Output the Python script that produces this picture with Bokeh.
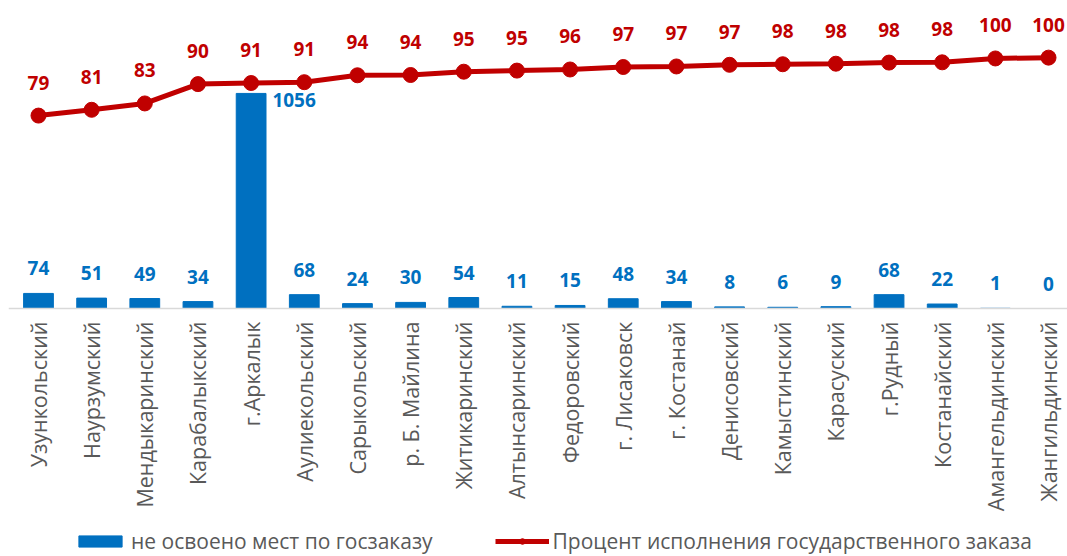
import numpy as np
from bokeh.plotting import figure
from bokeh.models import (ColumnDataSource, Range1d, LabelSet, Legend, LegendItem, Span)
from bokeh.core.properties import value
from bokeh.embed import file_html
from bokeh.resources import INLINE

categories = ["Узункольский", "Наурзумский", "Мендыкаринский", "Карабалыкский", "г.Аркалык",
              "Аулиекольский", "Сарыкольский", "р. Б. Майлина", "Житикаринский", "Алтынсаринский",
              "Федоровский", "г. Лисаковск", "г. Костанай", "Денисовский", "Камыстинский",
              "Карасуский", "г.Рудный", "Костанайский", "Амангельдинский", "Жангильдинский"]
unfilled = [74, 51, 49, 34, 1056, 68, 24, 30, 54, 11, 15, 48, 34, 8, 6, 9, 68, 22, 1, 0]
percent = [79.0, 81.1, 83.4, 90.4, 90.8, 91.1, 93.6, 93.7, 94.9, 95.3, 95.7, 96.6, 96.8,
           97.4, 97.6, 97.8, 98.2, 98.3, 99.7, 100.0]

BLUE = "#0070C0"
RED = "#C00000"
FONT = "Open Sans"

x = list(range(len(categories)))
imax = int(np.argmax(unfilled))
src = ColumnDataSource(dict(
    x=x, bars=unfilled, pct=percent, zero=[0] * len(x), cat=categories,
    bar_lbl=[str(v) for v in unfilled],
    pct_lbl=[str(int(round(v))) for v in percent],
    bx_off=[43 if i == imax else 0 for i in x],
    by_off=[-7 if i == imax else 25 for i in x],
))

# frame spans page y 8..556; value 0 sits 300 px below the top
p = figure(frame_width=1059, frame_height=548, output_backend="svg", toolbar_location=None,
           x_range=Range1d(-0.564, 19.357), y_range=Range1d(-1217.6, 1473),
           min_border_left=8, min_border_right=0, min_border_top=8, min_border_bottom=0)
p.extra_y_ranges = {"pct": Range1d(-80.76, 117.8)}
p.outline_line_color = None
p.xgrid.visible = False
p.ygrid.visible = False
p.xaxis.visible = False
p.yaxis.visible = False
p.background_fill_color = "white"
p.border_fill_color = "white"

p.add_layout(Span(location=0, dimension="width", line_color="#D9D9D9", line_width=1.5))

bars = p.vbar(x="x", top="bars", width=0.56, source=src, color=BLUE)
line = p.line(x="x", y="pct", source=src, y_range_name="pct", line_color=RED, line_width=5)
pts = p.scatter(x="x", y="pct", source=src, y_range_name="pct", size=15, color=RED)

# category labels (vertical, reading upward, ending just below the baseline)
p.add_layout(LabelSet(x="x", y="zero", text="cat", source=src, angle=np.pi / 2,
                      y_offset=-13, text_align="right", text_baseline="middle",
                      text_font=value(FONT), text_font_size="21.5px", text_color="#595959"))

p.add_layout(LabelSet(x="x", y="bars", text="bar_lbl", source=src, x_offset="bx_off",
                      y_offset="by_off", text_align="center", text_baseline="middle",
                      text_font=value(FONT), text_font_style="bold", text_font_size="19px",
                      text_color=BLUE))
p.add_layout(LabelSet(x="x", y="pct", text="pct_lbl", source=src, y_range_name="pct",
                      y_offset=33, text_align="center", text_baseline="middle",
                      text_font=value(FONT), text_font_style="bold", text_font_size="19px",
                      text_color=RED))

legend = Legend(items=[LegendItem(label="не освоено мест по госзаказу", renderers=[bars]),
                       LegendItem(label="Процент исполнения государственного заказа", renderers=[line, pts])],
                orientation="horizontal", location=(65, 1), glyph_width=54, glyph_height=14,
                label_text_font=FONT, label_text_font_size="21px", label_text_color="#595959",
                label_standoff=4, spacing=62, border_line_color=None, margin=0, padding=0,
                background_fill_alpha=0)
p.add_layout(legend, "center")

open("out.html", "w").write(file_html(p, INLINE))
